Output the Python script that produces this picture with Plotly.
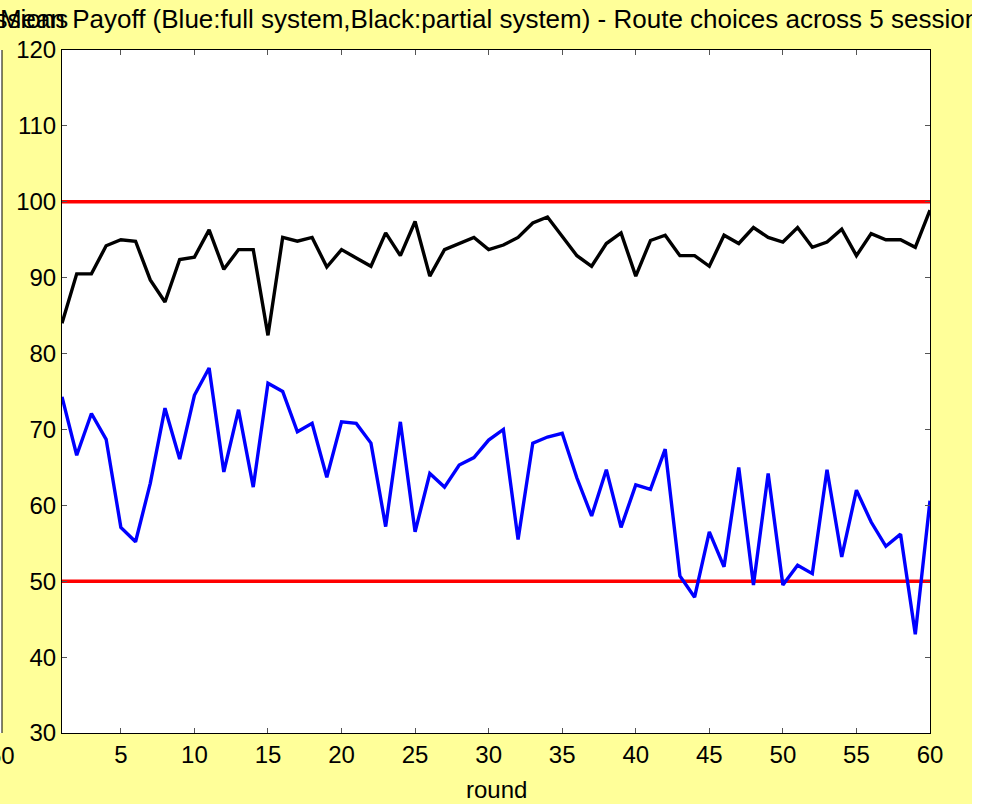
import plotly.graph_objects as go

rounds = list(range(1, 61))

full_system = [74.3, 66.6, 72.1, 68.7, 57.1, 55.2, 62.9, 72.8, 66.1, 74.5,
               78.1, 64.4, 72.6, 62.4, 76.1, 75.0, 69.7, 70.8, 63.7, 71.0,
               70.8, 68.2, 57.2, 71.0, 56.5, 64.2, 62.4, 65.3, 66.3, 68.6,
               70.0, 55.5, 68.2, 69.0, 69.5, 63.6, 58.6, 64.7, 57.1, 62.7,
               62.1, 67.4, 50.7, 47.9, 56.5, 51.9, 65.0, 49.5, 64.2, 49.5,
               52.1, 51.0, 64.7, 53.2, 62.0, 57.8, 54.6, 56.2, 43.0, 60.6]

partial_system = [84.0, 90.5, 90.5, 94.2, 95.0, 94.8, 89.7, 86.8, 92.4, 92.7,
                  96.3, 91.1, 93.7, 93.7, 82.4, 95.3, 94.8, 95.3, 91.4, 93.7,
                  92.6, 91.5, 95.9, 92.9, 97.4, 90.2, 93.7, 94.5, 95.3, 93.7,
                  94.3, 95.3, 97.2, 98.0, 95.4, 92.9, 91.5, 94.5, 95.9, 90.2,
                  94.9, 95.6, 92.9, 92.9, 91.5, 95.6, 94.5, 96.6, 95.3, 94.7,
                  96.6, 94.0, 94.7, 96.4, 92.9, 95.8, 95.0, 95.0, 94.0, 98.9]

ref_levels = [100, 50]

x_ticks = [5, 10, 15, 20, 25, 30, 35, 40, 45, 50, 55, 60]
y_ticks = [30, 40, 50, 60, 70, 80, 90, 100, 110, 120]

title_text = "Mean Payoff (Blue:full system,Black:partial system) - Route choices across 5 sessions"
x_label = "round"

FONT = "Liberation Sans, Arial, sans-serif"
FS = 24
W, H = 972, 804
ML, MR, MT, MB = 62, 42, 50, 71
PW = W - ML - MR
PH = H - MT - MB

fig = go.Figure()

for lvl in ref_levels:
    fig.add_trace(go.Scatter(x=[rounds[0], rounds[-1]], y=[lvl, lvl], mode="lines",
                             line=dict(color="#ff0000", width=3.4), showlegend=False,
                             hoverinfo="skip"))

fig.add_trace(go.Scatter(x=rounds, y=full_system, mode="lines",
                         line=dict(color="#0000ff", width=3.4), showlegend=False))
fig.add_trace(go.Scatter(x=rounds, y=partial_system, mode="lines",
                         line=dict(color="#000000", width=3.4), showlegend=False))

axis_common = dict(showgrid=False, zeroline=False, showline=True, linecolor="black",
                   linewidth=1, mirror="ticks", ticks="inside", ticklen=5,
                   tickcolor="#555555", tickwidth=1, automargin=False,
                   tickfont=dict(family=FONT, size=FS, color="black"))

fig.update_xaxes(range=[1, 60], tickvals=x_ticks, ticktext=[str(v) for v in x_ticks],
                 **axis_common)
fig.update_yaxes(range=[30, 120], tickvals=y_ticks, ticktext=[str(v) for v in y_ticks],
                 **axis_common)

# x-axis label
fig.add_annotation(text=x_label, xref="paper", yref="paper", x=0.5, y=-(789 - 733) / PH,
                   xanchor="center", yanchor="middle", showarrow=False,
                   font=dict(family=FONT, size=FS, color="black"))

# remnants of an earlier axes at the far left edge (white strip + axis line)
px = lambda p: (p - ML) / PW
fig.add_shape(type="rect", xref="paper", yref="paper", x0=px(-2), x1=px(2), y0=0, y1=1,
              fillcolor="white", line=dict(width=0), layer="below")
fig.add_shape(type="line", xref="paper", yref="paper", x0=px(2), x1=px(2), y0=0, y1=1,
              line=dict(color="black", width=1))

fig.add_annotation(text="sessions", xref="paper", yref="paper", x=px(70), y=1 + 31 / PH,
                   xanchor="right", yanchor="middle", showarrow=False,
                   font=dict(family=FONT, size=26, color="black"))
fig.add_annotation(text="60", xref="paper", yref="paper", x=px(2), y=-22 / PH,
                   xanchor="center", yanchor="middle", showarrow=False,
                   font=dict(family=FONT, size=FS, color="black"))

fig.update_layout(
    width=W, height=H,
    margin=dict(l=ML, r=MR, t=MT, b=MB, pad=0, autoexpand=False),
    paper_bgcolor="#ffff99",
    plot_bgcolor="white",
    title=dict(text=title_text, x=0.5, xref="paper", xanchor="center",
               y=1 - 19 / H, yanchor="middle",
               font=dict(family=FONT, size=26, color="black")),
    showlegend=False,
)

fig.write_html("out.html")
